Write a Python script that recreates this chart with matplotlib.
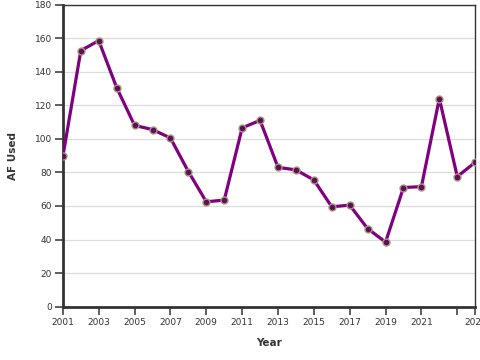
import matplotlib
matplotlib.use("Agg")
import matplotlib.pyplot as plt

years = [2001, 2002, 2003, 2004, 2005, 2006, 2007, 2008, 2009, 2010, 2011, 2012,
         2013, 2014, 2015, 2016, 2017, 2018, 2019, 2020, 2021, 2022, 2023, 2024]
af_used = [89.5, 152.5, 158.5, 130.5, 108, 105.5, 100.5, 80.5, 62.5, 63.5, 106.5, 111,
           83, 81.5, 75.5, 59.5, 60.5, 46.5, 38.5, 71, 71.5, 124, 77.5, 86]
x_ticks = [2001, 2003, 2005, 2007, 2009, 2011, 2013, 2015, 2017, 2019, 2021, 2023, 2024]
x_tick_labels = ["2001", "2003", "2005", "2007", "2009", "2011", "2013", "2015",
                 "2017", "2019", "2021", "", "2024"]
y_ticks = [0, 20, 40, 60, 80, 100, 120, 140, 160, 180]

fig = plt.figure(figsize=(4.8, 3.6), dpi=100)
ax = fig.add_axes([0.131, 0.148, 0.859, 0.8395])

ax.plot(years, af_used, color="#800080", linewidth=2.3, zorder=3,
        marker="o", markersize=5, markerfacecolor="#5c0f5c",
        markeredgecolor="#a89878", markeredgewidth=1.0)

ax.set_xlim(2001, 2024)
ax.set_ylim(0, 180)
ax.set_xticks(x_ticks)
ax.set_xticklabels(x_tick_labels)
ax.set_yticks(y_ticks)

ax.grid(axis="y", color="#dddddd", linewidth=0.9)
ax.set_axisbelow(True)

for s in ["left", "bottom"]:
    ax.spines[s].set_linewidth(2)
    ax.spines[s].set_color("#333333")
for s in ["top", "right"]:
    ax.spines[s].set_linewidth(1)
    ax.spines[s].set_color("#333333")

ax.tick_params(axis="both", colors="#333333", labelsize=6.5, length=6, width=1.1,
               labelcolor="#333333", pad=2)

ax.set_xlabel("Year", fontsize=7.5, fontweight="bold", color="#333333", labelpad=8)
ax.set_ylabel("AF Used", fontsize=7.5, fontweight="bold", color="#333333", labelpad=12)

fig.savefig("out.png", dpi=100)
